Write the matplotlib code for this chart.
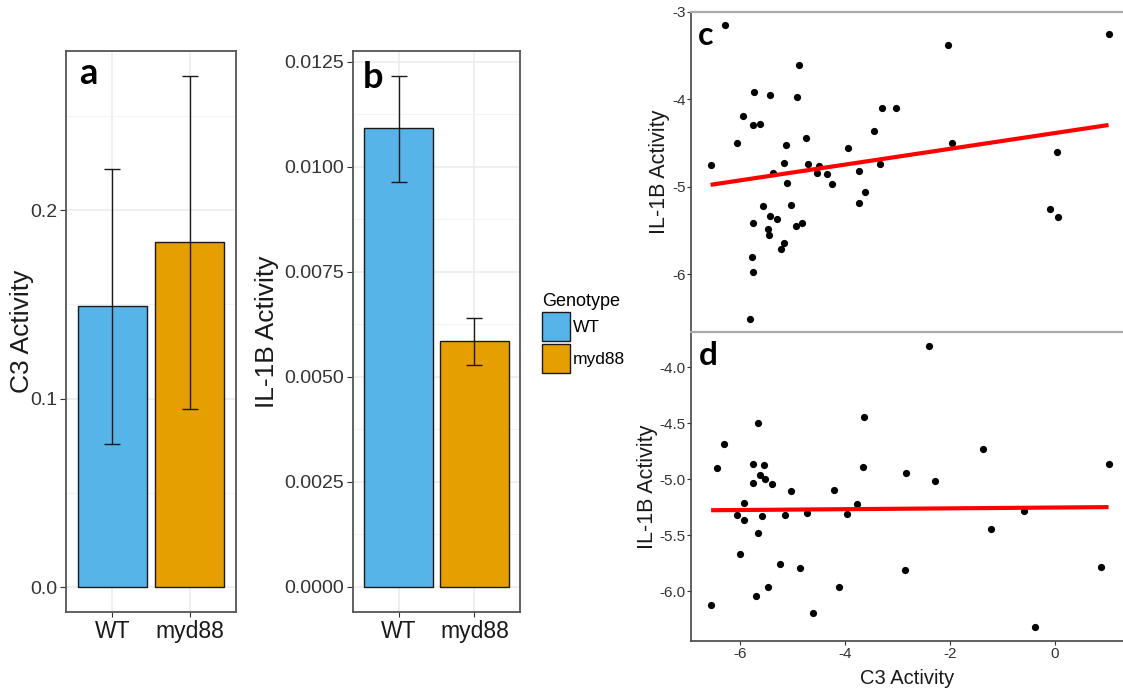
import numpy as np
import matplotlib
matplotlib.use("Agg")
import matplotlib.pyplot as plt
from matplotlib.patches import Patch, Rectangle

plt.rcParams['font.family'] = ['Liberation Sans', 'DejaVu Sans']
plt.rcParams['axes.unicode_minus'] = False

# ---------------- data ----------------
genotypes = ['WT', 'myd88']
bar_colors = ['#56B4E9', '#E69F00']

c3_mean = [0.149, 0.183]
c3_low = [0.076, 0.0945]
c3_high = [0.222, 0.2715]

il1b_mean = [0.01091, 0.00584]
il1b_low = [0.00964, 0.00527]
il1b_high = [0.01217, 0.00639]

c_x = [-6.56, -6.29, -6.05, -5.94, -5.73, -5.76, -5.62, -5.42, -5.75, -5.77,
       -5.75, -5.80, -5.57, -5.43, -5.46, -5.44, -5.30, -5.21, -5.16, -5.38,
       -5.17, -5.13, -5.11, -5.02, -4.93, -4.81, -4.91, -4.87, -4.74, -4.70,
       -4.53, -4.49, -4.34, -4.25, -3.95, -3.74, -3.74, -3.61, -3.45, -3.34,
       -3.29, -3.03, -2.04, -1.97, -0.10, 0.06, 0.04, 1.02]
c_y = [-4.755, -3.156, -4.496, -4.195, -3.917, -4.290, -4.283, -3.948, -5.410, -5.805,
       -5.970, -6.510, -5.215, -5.330, -5.478, -5.550, -5.370, -5.714, -5.638, -4.839,
       -4.732, -4.526, -4.953, -5.204, -5.444, -5.410, -3.975, -3.613, -4.439, -4.740,
       -4.846, -4.759, -4.858, -4.964, -4.557, -4.816, -5.189, -5.063, -4.367, -4.736,
       -4.104, -4.104, -3.381, -4.504, -5.257, -5.341, -4.603, -3.259]

d_x = [-6.55, -6.44, -6.30, -6.06, -5.92, -5.92, -6.00, -5.75, -5.76, -5.66,
       -5.61, -5.54, -5.53, -5.39, -5.58, -5.66, -5.69, -5.47, -5.24, -5.14,
       -5.03, -4.86, -4.72, -4.60, -4.21, -4.11, -3.97, -3.78, -3.66, -3.63,
       -2.84, -2.86, -2.40, -2.28, -1.37, -1.21, -0.60, -0.39, 0.87, 1.02]
d_y = [-6.119, -4.899, -4.682, -5.321, -5.214, -5.366, -5.667, -4.863, -5.030, -4.503,
       -4.961, -4.875, -5.000, -5.045, -5.324, -5.479, -6.039, -5.961, -5.756, -5.321,
       -5.107, -5.789, -5.298, -6.196, -5.098, -5.958, -5.312, -5.220, -4.887, -4.443,
       -4.943, -5.813, -3.8125, -5.018, -4.729, -5.443, -5.286, -6.318, -5.780, -4.863]

a_yticks = [0.0, 0.1, 0.2]
b_yticks = [0.0, 0.0025, 0.005, 0.0075, 0.01, 0.0125]
c_yticks = [-3, -4, -5, -6]
d_yticks = [-4.0, -4.5, -5.0, -5.5, -6.0]
d_xticks = [-6, -4, -2, 0]

# ---------------- figure ----------------
W, H = 1123, 691
fig = plt.figure(figsize=(W / 100, H / 100), dpi=100)


def rect(l, r, t, b):
    return [l / W, 1 - b / H, (r - l) / W, (b - t) / H]


def bar_panel(ax, means, lows, highs, ylim, yticks, fmt, ylabel, ylabel_x):
    x = np.arange(1, len(genotypes) + 1)
    ax.set_yticks(yticks)
    ax.set_yticklabels([fmt % v for v in yticks])
    step = yticks[1] - yticks[0]
    minor = [v + step / 2 for v in yticks]
    minor = [v for v in minor if ylim[0] <= v <= ylim[1]]
    ax.set_yticks(minor, minor=True)
    ax.set_xlim(0.4, 2.6)
    ax.set_ylim(*ylim)
    ax.tick_params(axis='y', which='minor', length=0)
    ax.grid(True, which='major', color='#EBEBEB', lw=1.1)
    ax.grid(True, which='minor', axis='y', color='#F3F3F3', lw=0.8)
    ax.set_axisbelow(True)
    ax.bar(x, means, width=0.9, color=bar_colors, edgecolor='#1a1a1a', lw=1.0, zorder=2)
    m = np.array(means)
    yerr = [m - np.array(lows), np.array(highs) - m]
    ax.errorbar(x, means, yerr=yerr, fmt='none', ecolor='#1a1a1a', elinewidth=1.0,
                capsize=5.6, capthick=1.0, zorder=3)
    ax.set_xticks(x)
    ax.set_xticklabels(genotypes, fontsize=16.5, color='#1a1a1a')
    ax.tick_params(axis='y', labelsize=14, labelcolor='#333333', length=4.3, width=0.8,
                   color='#333333', pad=2)
    ax.tick_params(axis='x', length=3.6, width=0.8, color='#333333', pad=2)
    for s in ax.spines.values():
        s.set_color('#555555')
        s.set_linewidth(1.3)
    ax.set_ylabel(ylabel, fontsize=19, color='#1a1a1a')
    ax.yaxis.label.set_va('center')
    ax.yaxis.set_label_coords(ylabel_x, 0.5)


ax_a = fig.add_axes(rect(66, 236, 50.7, 612.3))
bar_panel(ax_a, c3_mean, c3_low, c3_high, (-0.01343, 0.2847), a_yticks, '%.1f',
          'C3 Activity', (22.5 - 66) / 170)

ax_b = fig.add_axes(rect(353, 520, 50.7, 612.3))
bar_panel(ax_b, il1b_mean, il1b_low, il1b_high, (-0.00061, 0.012762), b_yticks, '%.4f',
          'IL-1B Activity', (267 - 353) / 167)

# legend
handles = [Patch(facecolor=c, edgecolor='#1a1a1a', lw=1.0) for c in bar_colors]
leg = fig.legend(handles, genotypes, title='Genotype', loc='upper left',
                 bbox_to_anchor=(542 / W, 1 - 293 / H), frameon=False,
                 fontsize=12.5, title_fontsize=13, handlelength=1.6, handleheight=2.2,
                 labelspacing=0.13, handletextpad=0.2, borderpad=0, borderaxespad=0,
                 alignment='left')
leg.set_zorder(1)

# white cover hiding the clipped legend text (as in the composed figure)
fig.patches.append(Rectangle((627 / W, 1 - 390 / H), 24 / W, 60 / H, transform=fig.transFigure,
                             facecolor='white', edgecolor='none', zorder=2))


def scatter_panel(ax, xs, ys, ylim, yticks, fmt, show_x):
    ax.set_xlim(-6.933, 1.295)
    ax.set_ylim(*ylim)
    ax.scatter(xs, ys, s=27, color='black', zorder=3, linewidths=0)
    slope, intercept = np.polyfit(xs, ys, 1)
    xx = np.array([min(xs), max(xs)])
    ax.plot(xx, slope * xx + intercept, color='#FF0000', lw=3.0, zorder=4,
            solid_capstyle='butt')
    ax.set_yticks(yticks)
    ax.set_yticklabels([fmt % v for v in yticks])
    ax.tick_params(axis='both', labelsize=11, labelcolor='#333333', length=2.8, width=0.8,
                   color='#333333', pad=1.2)
    ax.spines['right'].set_visible(False)
    ax.spines['left'].set_color('#444444')
    ax.spines['left'].set_linewidth(1.2)
    ax.spines['top'].set_color('#AAAAAA')
    ax.spines['top'].set_linewidth(1.6)
    if show_x:
        ax.set_xticks(d_xticks)
        ax.set_xticklabels(['%d' % v for v in d_xticks])
        ax.spines['bottom'].set_color('#444444')
        ax.spines['bottom'].set_linewidth(1.2)
        ax.set_xlabel('C3 Activity', fontsize=14.5, color='#1a1a1a')
        ax.xaxis.set_label_coords(0.5, -0.09)
    else:
        ax.set_xticks([])
        ax.spines['bottom'].set_visible(False)
    ax.set_ylabel('IL-1B Activity', fontsize=15.5, color='#1a1a1a')
    ax.yaxis.label.set_va('center')


ax_c = fig.add_axes(rect(691, 1123, 11.5, 332))
scatter_panel(ax_c, c_x, c_y, (-6.659, -2.998), c_yticks, '%d', False)
ax_c.yaxis.set_label_coords((659 - 691) / 432, 0.5)
ax_c.patch.set_alpha(0)

ax_d = fig.add_axes(rect(691, 1123, 332, 641))
scatter_panel(ax_d, d_x, d_y, (-6.443, -3.6875), d_yticks, '%.1f', True)
ax_d.yaxis.set_label_coords((647 - 691) / 432, 0.5)
ax_d.set_zorder(3)
ax_c.set_zorder(2.5)

# panel letters
for txt, px, py, fs in [('a', 79, 84, 26), ('b', 363, 88, 26), ('c', 698, 45, 23), ('d', 699, 365, 24)]:
    fig.text(px / W, 1 - py / H, txt, fontsize=fs, fontweight='bold', family=['Lato', 'DejaVu Sans'],
             ha='left', va='baseline', zorder=10)

fig.savefig('out.png', dpi=100, facecolor='white')
